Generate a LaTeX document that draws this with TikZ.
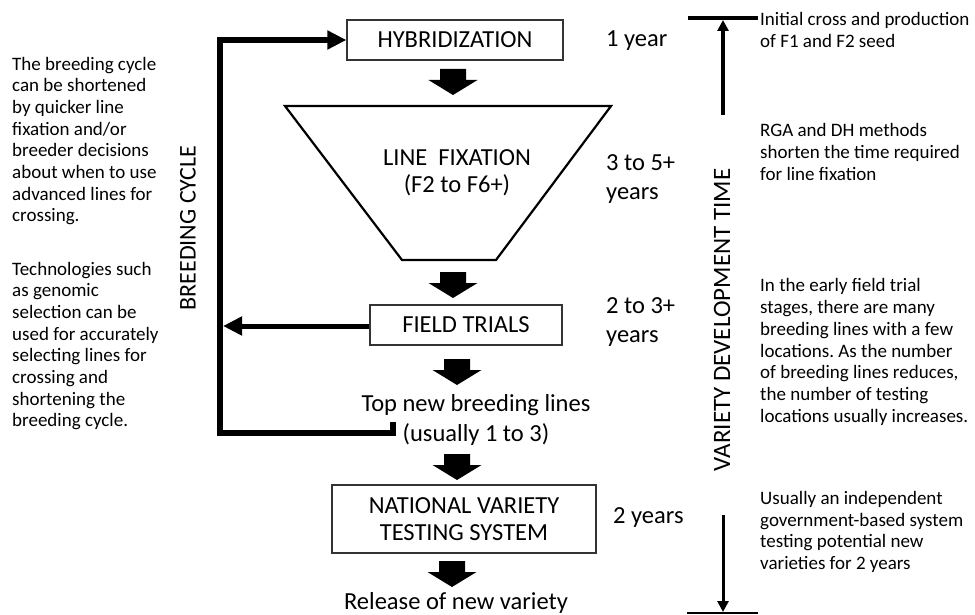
\documentclass[tikz,border=0pt]{standalone}
\usepackage{fontspec}
\setmainfont{Carlito}
\usetikzlibrary{arrows.meta}
\frenchspacing
\begin{document}
\begin{tikzpicture}[x=1pt,y=-1pt,
  box/.style={draw=black!80, line width=1.2pt, inner sep=0, align=center, font=\fontsize{24.5}{27.5}\selectfont},
  lbl/.style={inner sep=0, align=center, font=\fontsize{24.5}{28.5}\selectfont},
  timelbl/.style={inner sep=0, align=left, anchor=west, font=\fontsize{24.5}{28.5}\selectfont},
  side/.style={inner sep=0, align=left, anchor=west, font=\fontsize{19}{21.7}\selectfont},
  vlbl/.style={inner sep=0, rotate=90, font=\fontsize{24}{27}\selectfont},
  blockarrow/.pic={\fill (-13,0) -- (13,0) -- (13,11) -- (24.5,11) -- (0,26) -- (-24.5,11) -- (-13,11) -- cycle;},
  loopline/.style={line width=6pt, line join=miter, -{Triangle[length=19pt,width=18pt]}},
  backline/.style={line width=5pt, -{Triangle[length=19pt,width=18pt]}},
  timeline/.style={line width=4pt, -{Triangle[length=11pt,width=11pt]}},
]
\useasboundingbox (0,0) rectangle (975,615);

% main boxes
\node[box, minimum width=216pt, minimum height=40pt] (hyb) at (455,40) {HYBRIDIZATION};
\node[box, minimum width=192pt, minimum height=40pt] (field) at (466,325) {FIELD TRIALS};
\node[box, minimum width=264pt, minimum height=68pt] (nat) at (464,519) {NATIONAL VARIETY\\TESTING SYSTEM};

% trapezoid
\coordinate (t1) at (285,106);
\coordinate (t2) at (611,106);
\coordinate (t3) at (496,260);
\coordinate (t4) at (402,260);
\draw[line width=2.2pt, line join=miter] (t1) -- (t2) -- (t3) -- (t4) -- cycle;
\node[lbl, font=\fontsize{24.5}{27}\selectfont] (lf) at (457,173) {LINE~~FIXATION\\(F2 to F6+)};

% labels
\node[lbl, font=\fontsize{24.5}{30}\selectfont] (top) at (476,420) {Top new breeding lines\\(usually 1 to 3)};
\node[lbl] (rel) at (456,603) {Release of new variety};

% block arrows
\pic at (453,69) {blockarrow};
\pic at (453,272) {blockarrow};
\pic at (457,359) {blockarrow};
\pic at (457,454) {blockarrow};
\pic at (452,561) {blockarrow};

% breeding loop
\coordinate (lpA) at (393,422);
\coordinate (lpB) at (393,433);
\coordinate (lpC) at (220,433);
\coordinate (lpD) at (220,40);
\draw[loopline] (lpA) -- (lpB) -- (lpC) -- (lpD) -- (hyb.west);
\coordinate (fbEnd) at (223,326);
\draw[backline] (field.west |- fbEnd) -- (fbEnd);

\node[vlbl] (bc) at (188,228) {BREEDING CYCLE};

% time labels
\node[timelbl] (y1) at (606,41) {1 year};
\node[timelbl] (y2) at (606,179) {3 to 5+\\years};
\node[timelbl] (y3) at (606,322) {2 to 3+\\years};
\node[timelbl] (y4) at (613,518) {2 years};

% variety development time
\node[vlbl, font=\fontsize{25}{27}\selectfont] (vdt) at (722,320) {VARIETY DEVELOPMENT TIME};
\coordinate (barTL) at (688,18);
\coordinate (barTR) at (758,18);
\draw[line width=4pt] (barTL) -- (barTR);
\coordinate (upS) at (723,115);
\coordinate (upE) at (723,20);
\draw[timeline] (upS) -- (upE);
\coordinate (dnS) at (723,515);
\coordinate (dnE) at (723,612);
\draw[timeline, line width=3pt] (dnS) -- (dnE);
\coordinate (barBL) at (687,613);
\coordinate (barBR) at (758,613);
\draw[line width=1.5pt] (barBL) -- (barBR);

% side texts
\node[side] (lt1) at (12,141) {The breeding cycle\\can be shortened\\by quicker line\\fixation and/or\\breeder decisions\\about when to use\\advanced lines for\\crossing.};
\node[side] (lt2) at (12,346) {Technologies such\\as genomic\\selection can be\\used for accurately\\selecting lines for\\crossing and\\shortening the\\breeding cycle.};

\node[side] (rt1) at (760,30) {Initial cross and production\\of F1 and F2 seed};
\node[side] (rt2) at (760,152) {RGA and DH methods\\shorten the time required\\for line fixation};
\node[side] (rt3) at (760,352) {In the early field trial\\stages, there are many\\breeding lines with a few\\locations. As the number\\of breeding lines reduces,\\the number of testing\\locations usually increases.};
\node[side] (rt4) at (760,532) {Usually an independent\\government-based system\\testing potential new\\varieties for 2 years};
\end{tikzpicture}
\end{document}
